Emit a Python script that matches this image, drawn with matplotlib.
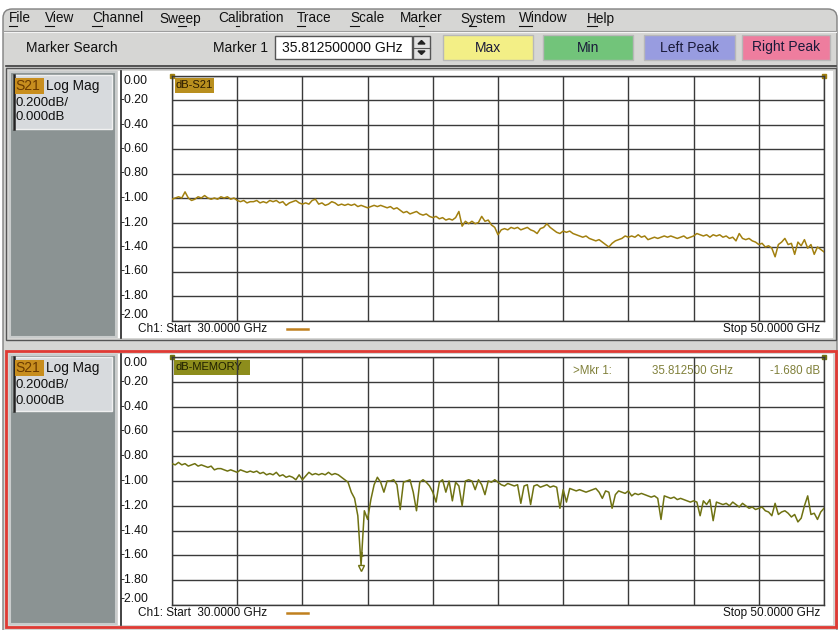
import numpy as np
import matplotlib.pyplot as plt
from matplotlib.patches import Rectangle, FancyBboxPatch
from matplotlib.transforms import blended_transform_factory

plt.rcParams["font.family"] = ["Liberation Sans", "DejaVu Sans"]

# ── Sweep settings and readouts ──────────────────────────────────────────
START_GHZ = 30.0
STOP_GHZ = 50.0
MARKER_GHZ = 35.8125
MARKER_DB = -1.680

# dB-S21 trace, 201 points from 30 to 50 GHz
s21_db = [
    -1.01, -1.00, -0.99, -1.00, -0.95, -1.00, -1.02, -1.01, -0.99, -1.00,
    -0.98, -1.00, -1.01, -1.00, -1.01, -0.99, -1.00, -0.99, -1.01, -1.00,
    -1.02, -1.03, -1.02, -1.04, -1.03, -1.03, -1.02, -1.04, -1.03, -1.04,
    -1.02, -1.03, -1.02, -1.04, -1.03, -1.06, -1.04, -1.03, -1.02, -1.04,
    -1.05, -1.04, -1.05, -1.02, -1.01, -1.05, -1.04, -1.06, -1.05, -1.03,
    -1.04, -1.06, -1.05, -1.06, -1.05, -1.06, -1.05, -1.07, -1.06, -1.07,
    -1.08, -1.07, -1.06, -1.07, -1.06, -1.07, -1.08, -1.07, -1.09, -1.08,
    -1.10, -1.12, -1.11, -1.13, -1.12, -1.11, -1.13, -1.14, -1.13, -1.15,
    -1.16, -1.15, -1.17, -1.16, -1.18, -1.17, -1.18, -1.16, -1.11, -1.23,
    -1.19, -1.21, -1.19, -1.21, -1.20, -1.15, -1.19, -1.18, -1.22, -1.24,
    -1.30, -1.26, -1.25, -1.26, -1.24, -1.25, -1.24, -1.26, -1.25, -1.24,
    -1.26, -1.27, -1.29, -1.25, -1.24, -1.21, -1.24, -1.26, -1.28, -1.29,
    -1.27, -1.28, -1.27, -1.29, -1.30, -1.31, -1.32, -1.31, -1.33, -1.34,
    -1.35, -1.34, -1.36, -1.38, -1.40, -1.37, -1.35, -1.34, -1.33, -1.31,
    -1.32, -1.31, -1.32, -1.30, -1.32, -1.31, -1.34, -1.33, -1.32, -1.33,
    -1.32, -1.31, -1.32, -1.31, -1.32, -1.33, -1.32, -1.31, -1.33, -1.32,
    -1.31, -1.29, -1.30, -1.31, -1.30, -1.32, -1.30, -1.31, -1.30, -1.32,
    -1.31, -1.33, -1.32, -1.35, -1.29, -1.33, -1.34, -1.33, -1.35, -1.36,
    -1.38, -1.37, -1.40, -1.39, -1.41, -1.48, -1.38, -1.36, -1.33, -1.38,
    -1.37, -1.46, -1.36, -1.39, -1.34, -1.41, -1.38, -1.46, -1.40, -1.42,
    -1.44,
]

# dB-MEMORY trace, same sweep
memory_db = [
    -0.86, -0.87, -0.85, -0.87, -0.86, -0.88, -0.87, -0.86, -0.88, -0.87,
    -0.88, -0.89, -0.88, -0.91, -0.90, -0.90, -0.91, -0.92, -0.91, -0.92,
    -0.93, -0.91, -0.92, -0.93, -0.92, -0.93, -0.92, -0.94, -0.93, -0.95,
    -0.94, -0.95, -0.93, -0.96, -0.95, -0.97, -0.96, -0.97, -0.99, -0.95,
    -0.99, -0.96, -0.93, -0.95, -0.94, -0.95, -0.94, -0.95, -0.93, -0.95,
    -0.94, -0.95, -0.97, -0.99, -1.01, -1.09, -1.14, -1.28, -1.68, -1.24,
    -1.31, -1.15, -1.03, -0.97, -1.01, -1.09, -1.00, -1.00, -0.99, -1.03,
    -1.23, -1.01, -1.00, -0.99, -1.09, -1.24, -1.01, -0.99, -1.01, -1.04,
    -1.09, -1.17, -1.01, -0.99, -1.09, -1.00, -1.16, -1.01, -1.04, -1.20,
    -1.00, -0.99, -1.00, -1.07, -0.99, -1.03, -1.11, -1.00, -1.01, -0.99,
    -1.01, -1.03, -1.04, -1.02, -1.03, -1.04, -1.03, -1.18, -1.04, -1.03,
    -1.19, -1.04, -1.03, -1.05, -1.04, -1.03, -1.05, -1.04, -1.05, -1.22,
    -1.07, -1.17, -1.06, -1.07, -1.08, -1.07, -1.08, -1.09, -1.08, -1.07,
    -1.06, -1.09, -1.14, -1.08, -1.09, -1.22, -1.11, -1.08, -1.09, -1.10,
    -1.08, -1.12, -1.10, -1.11, -1.10, -1.11, -1.12, -1.13, -1.12, -1.14,
    -1.31, -1.12, -1.13, -1.14, -1.13, -1.15, -1.14, -1.15, -1.16, -1.17,
    -1.16, -1.17, -1.28, -1.16, -1.19, -1.15, -1.32, -1.17, -1.18, -1.19,
    -1.18, -1.20, -1.17, -1.19, -1.21, -1.18, -1.20, -1.22, -1.21, -1.23,
    -1.22, -1.21, -1.24, -1.25, -1.28, -1.18, -1.27, -1.25, -1.24, -1.26,
    -1.29, -1.27, -1.33, -1.30, -1.20, -1.12, -1.27, -1.26, -1.31, -1.25,
    -1.22,
]

y_ticks = [0.0, -0.2, -0.4, -0.6, -0.8, -1.0, -1.2, -1.4, -1.6, -1.8, -2.0]
y_tick_labels = ["0.00", "-0.20", "-0.40", "-0.60", "-0.80", "-1.00",
                 "-1.20", "-1.40", "-1.60", "-1.80", "-2.00"]

menu_items = ["File", "View", "Channel", "Sweep", "Calibration", "Trace",
              "Scale", "Marker", "System", "Window", "Help"]
menu_hotkey = [0, 0, 0, 2, 2, 0, 0, 2, 1, 0, 0]   # underlined letter
menu_x = [9, 45, 92, 159, 218, 297, 350, 400, 460, 519, 587]

buttons = ["Max", "Min", "Left Peak", "Right Peak"]
button_x = [(443, 533), (543, 633), (644, 735), (742, 830)]
button_colors = ["#f3ef86", "#72c47a", "#989ce0", "#ee7d9e"]

S21_COLOR = "#a2800f"
MEM_COLOR = "#6f7212"
WIN_BG = "#d6d6d4"
PANEL_GRAY = "#8b9393"
GRID = "#3a3a3a"

W, H = 839, 630
PLOT_X0, PLOT_X1 = 172, 824

fig = plt.figure(figsize=(W / 100, H / 100), dpi=100)
fig.patch.set_facecolor("white")
bg = fig.add_axes([0, 0, 1, 1])
bg.set_xlim(0, W)
bg.set_ylim(H, 0)
bg.axis("off")
renderer = fig.canvas.get_renderer()


def box(x0, y0, x1, y1, fc, ec="none", lw=0.0, z=1):
    bg.add_patch(Rectangle((x0, y0), x1 - x0, y1 - y0, fc=fc, ec=ec, lw=lw, zorder=z))


def label(x, y, s, size=9.8, color="#111111", ha="left", z=5, **kw):
    return bg.text(x, y, s, fontsize=size, color=color, ha=ha, va="center",
                   zorder=z, **kw)


def text_width(s, size):
    # pixel width of a string (figure is 1 unit per pixel)
    if not s:
        return 0.0
    t = bg.text(0, 0, s, fontsize=size)
    w = t.get_window_extent(renderer).width
    t.remove()
    return w


# ── window chrome, menu and toolbar ──────────────────────────────────────
bg.add_patch(FancyBboxPatch((3, 9), 834, 640, boxstyle="round,pad=0,rounding_size=9",
                            fc=WIN_BG, ec="#808080", lw=1.0, zorder=0))
bg.plot([4, 836], [30.5, 30.5], color="#9a9a9a", lw=0.8, zorder=2)
bg.plot([4, 836], [31.5, 31.5], color="#f4f4f4", lw=0.8, zorder=2)
MENU_SIZE = 9.8
for name, k, x in zip(menu_items, menu_hotkey, menu_x):
    label(x, 18.5, name, size=MENU_SIZE)
    u0 = x + text_width(name[:k], MENU_SIZE)
    u1 = x + text_width(name[:k + 1], MENU_SIZE)
    bg.plot([u0, u1], [25.5, 25.5], color="#111111", lw=0.8, zorder=5)

label(26, 47.5, "Marker Search", size=10)
label(213, 47.5, "Marker 1", size=10)
box(275, 36, 412, 59, "white", ec="#555555", lw=1.0, z=2)
label(282, 47.5, "35.812500000 GHz", size=10)
box(413, 36, 430, 59, "#e2e2e2", ec="#555555", lw=1.0, z=2)
bg.plot([413, 430], [47.5, 47.5], color="#555555", lw=0.8, zorder=3)
bg.fill([418, 421.5, 425], [44, 40.5, 44], color="#222222", zorder=3)
bg.fill([418, 421.5, 425], [51, 54.5, 51], color="#222222", zorder=3)
for name, (x0, x1), c in zip(buttons, button_x, button_colors):
    box(x0, 35, x1, 60, c, ec="#b8b8b8", lw=1.0, z=2)
    label((x0 + x1) / 2, 47.5, name, size=10, ha="center", color="#1a1a3a")
bg.plot([6, 836], [65.5, 65.5], color="#3c3c3c", lw=1.2, zorder=2)


# ── channel panels ───────────────────────────────────────────────────────
def draw_panel(y0, y1, frame, frame_lw, box_y):
    box(6, y0, 836, y1, WIN_BG, ec=frame, lw=frame_lw, z=1)
    box(10, y0 + 4, 116, y1 - 3, PANEL_GRAY, ec="#c9cccc", lw=1.5, z=2)
    box(13, box_y[0], 112, box_y[1], "#d7dadd", ec="#f0f0f0", lw=1.0, z=3)
    bg.plot([13.5, 13.5], box_y, color="#222222", lw=1.8, zorder=4)
    box(118, y0 + 3, 833, y1 - 2, "white", z=2)
    bg.plot([121, 121], [y0 + 3, y1 - 2], color="#222222", lw=1.2, zorder=3)


def draw_readout(rows):
    bg.add_patch(Rectangle((15, rows[0] - 8), 29, 16, fc="#c88e1e", ec="none", zorder=4))
    label(15.5, rows[0], "S21", size=10, color="#6a3a00")
    label(46, rows[0], "Log Mag", size=9.8)
    label(15, rows[1], "0.200dB/", size=9.5)
    label(15, rows[2], "0.000dB", size=9.5)


draw_panel(68, 340, "#555555", 1.0, (75, 129))
draw_readout((86, 103, 117.5))
draw_panel(351, 627, "#e03a34", 2.0, (357, 411))
draw_readout((368, 385, 400.5))

# trace titles
box(175, 78, 214, 93, "#b98f1e", z=4)
label(176, 85.5, "dB-S21", size=8, color="#2a1a00")
box(174, 360, 250, 375, "#8d8d1c", z=4)
label(175, 367.5, "dB-MEMORY", size=8, color="#1e1e00")

# sweep footer
for yy in (329, 613):
    label(138, yy, "Ch1: Start  30.0000 GHz", size=8.5)
    bg.plot([287, 308], [yy, yy], color="#c0801e", lw=1.8, zorder=5)
    label(820, yy, "Stop 50.0000 GHz", size=8.5, ha="right")

# marker readout (bottom channel)
label(573, 371.5, ">Mkr 1:", size=8.3, color="#80803a")
label(652, 371.5, "35.812500 GHz", size=8.3, color="#80803a")
label(820, 371.5, "-1.680 dB", size=8.3, color="#80803a", ha="right")


# ── trace axes ───────────────────────────────────────────────────────────
def trace_axes(y_top, y_bot, values, color):
    ax = fig.add_axes([PLOT_X0 / W, 1 - y_bot / H,
                       (PLOT_X1 - PLOT_X0) / W, (y_bot - y_top) / H])
    ax.set_facecolor("none")
    freq = np.linspace(START_GHZ, STOP_GHZ, len(values))
    ax.plot(freq, values, color=color, lw=1.1, zorder=3)
    ax.set_xlim(START_GHZ, STOP_GHZ)
    ax.set_ylim(-2.0, 0.0)
    ax.set_xticks(np.linspace(START_GHZ, STOP_GHZ, 11))
    ax.set_yticks(y_ticks)
    ax.grid(True, color=GRID, lw=1.0)
    ax.tick_params(length=0, labelbottom=False, labelleft=False)
    for sp in ax.spines.values():
        sp.set_color(GRID)
        sp.set_linewidth(1.0)
    tr = blended_transform_factory(ax.transAxes, ax.transData)
    x_lab = -(PLOT_X0 - 148) / (PLOT_X1 - PLOT_X0)
    for v, lab in zip(y_ticks, y_tick_labels):
        va = "top" if v == y_ticks[0] else ("bottom" if v == y_ticks[-1] else "center")
        ax.text(x_lab, v, lab, transform=tr, ha="right", va=va, fontsize=8.7,
                color="#111111")
    # reference-level tabs
    ax.plot([START_GHZ], [0.0], marker="s", ms=3.5, color=color, clip_on=False)
    ax.plot([STOP_GHZ], [0.0], marker="s", ms=2.5, color=color, clip_on=False)
    return ax


ax_top = trace_axes(75.5, 320.5, s21_db, S21_COLOR)
ax_bot = trace_axes(357, 605, memory_db, MEM_COLOR)
ax_bot.plot([MARKER_GHZ], [MARKER_DB - 0.02], marker="v", ms=5, mfc="none",
            mec=MEM_COLOR, mew=1.0, zorder=4)
ax_bot.text(MARKER_GHZ, MARKER_DB + 0.08, "1", fontsize=6, color=MEM_COLOR,
            ha="center", va="center")

fig.savefig("out.png", dpi=100)
